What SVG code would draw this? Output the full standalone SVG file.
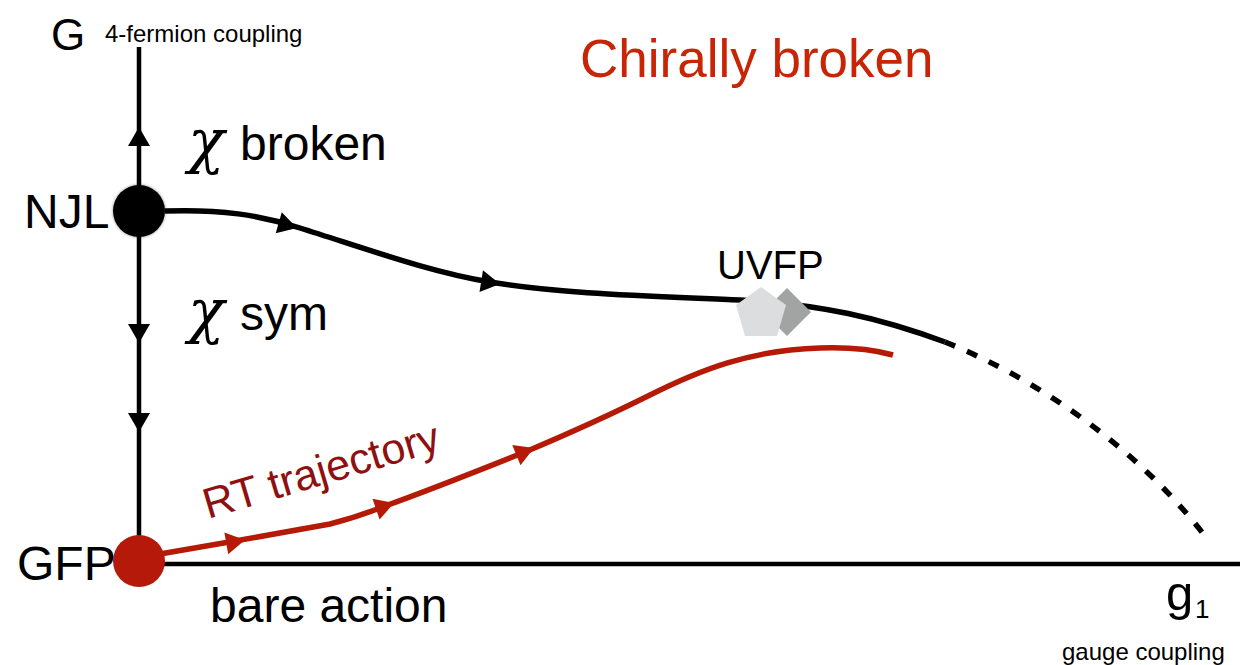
<svg xmlns="http://www.w3.org/2000/svg" width="1240" height="665" viewBox="0 0 1240 665">
  <style>
    .lbl { font-family: "Liberation Sans", Arial, sans-serif; fill: #000; }
    .chi { font-family: "DejaVu Serif", "Liberation Serif", serif; font-style: italic; fill: #000; }
    .axis { stroke: #000; stroke-width: 4.5; fill: none; }
    .flow { stroke: #000; stroke-width: 5.5; fill: none; stroke-linecap: butt; }
    .rt { stroke: #b51a06; stroke-width: 5.5; fill: none; }
  </style>
  <defs>
    <path id="ah" d="M0,0 L-19,-11 L-19,11 Z"/>
    <filter id="soft" x="-30%" y="-30%" width="160%" height="160%">
      <feDropShadow dx="0" dy="0" stdDeviation="1.5" flood-color="#000" flood-opacity="0.45"/>
    </filter>
  </defs>
  <rect width="1240" height="665" fill="#fff"/>

  <!-- axes -->
  <g id="axes">
    <line class="axis" x1="139" y1="47" x2="139" y2="566"/>
    <line class="axis" x1="139" y1="564" x2="1240" y2="564"/>
    <text class="lbl" x="51" y="50" font-size="44">G</text>
    <text class="lbl" x="105" y="42" font-size="24">4-fermion coupling</text>
    <text class="lbl" x="1166" y="610" font-size="49">g</text>
    <text class="lbl" x="1195" y="618" font-size="26">1</text>
    <text class="lbl" x="1062" y="660" font-size="24">gauge coupling</text>
  </g>

  <!-- region labels -->
  <g id="labels">
    <text class="lbl" x="580" y="77" font-size="53" style="fill:#c82506">Chirally broken</text>
    <text class="chi" x="188" y="162" font-size="60">χ</text>
    <text class="lbl" x="240" y="160" font-size="48">broken</text>
    <text class="chi" x="188" y="332" font-size="60">χ</text>
    <text class="lbl" x="240" y="330" font-size="48">sym</text>
    <text class="lbl" x="210" y="622" font-size="48">bare action</text>
  </g>

  <!-- flow lines and arrowheads -->
  <g id="connectors">
    <path class="flow" d="M165,211 C220,209 260,215 300,228 C370,250 430,272 490,282 C560,294 650,296 740,300 C820,304 880,318 945,342"/>
    <path class="flow" d="M945,342 C1040,380 1140,450 1208,540" stroke-dasharray="11 13"/>
    <path class="rt" d="M160,554 L235,541 L330,524 C350,519 370,512 385,506 C430,490 480,470 525,452 C570,433 610,415 650,395 C700,370 750,350 820,348 C850,347 875,350 893,355"/>

    <use href="#ah" transform="translate(139,127) rotate(-90)"/>
    <use href="#ah" transform="translate(139,343) rotate(90)"/>
    <use href="#ah" transform="translate(139,432) rotate(90)"/>
    <use href="#ah" transform="translate(297,228) rotate(16)"/>
    <use href="#ah" transform="translate(500,284) rotate(9)"/>
    <use href="#ah" transform="translate(245,540) rotate(-10)" fill="#b51a06"/>
    <use href="#ah" transform="translate(394,503) rotate(-19)" fill="#b51a06"/>
    <use href="#ah" transform="translate(534,448) rotate(-22)" fill="#b51a06"/>

    <text class="lbl" font-size="43" style="fill:#8e1010" transform="translate(208,519) rotate(-16.5)">RT trajectory</text>
  </g>

  <!-- fixed points -->
  <g id="NJL">
    <circle cx="139" cy="211" r="26" fill="#000" filter="url(#soft)"/>
    <text class="lbl" x="24" y="228" font-size="48">NJL</text>
  </g>

  <g id="GFP">
    <circle cx="139" cy="561" r="26" fill="#b5190a"/>
    <text class="lbl" x="17" y="580" font-size="48">GFP</text>
  </g>

  <g id="UVFP">
    <rect x="-17" y="-17" width="34" height="34" fill="#a2a4a4" transform="translate(787,312) rotate(45)"/>
    <polygon points="761,287 786,305 777,336 745,336 736,305" fill="#dcdddf"/>
    <text class="lbl" x="717" y="279" font-size="40">UVFP</text>
  </g>
</svg>
